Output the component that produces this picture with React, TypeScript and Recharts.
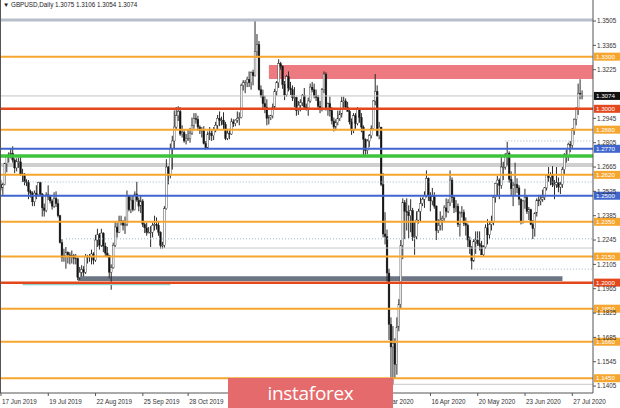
import React from 'react';
import {
  ComposedChart,
  Bar,
  XAxis,
  YAxis,
  ReferenceLine,
  ReferenceArea,
} from 'recharts';

// GBPUSD daily, 17 Jun 2019 .. 3 Aug 2020 — [open, high, low, close], one row per week
const candles: number[][] = [
  [1.2565, 1.2590, 1.2530, 1.2545], [1.2545, 1.2575, 1.2505, 1.2565], [1.2565, 1.2690, 1.2560, 1.2685], [1.2685, 1.2728, 1.2635, 1.2725], [1.2725, 1.2750, 1.2690, 1.2740],
  [1.2740, 1.2770, 1.2715, 1.2745], [1.2745, 1.2784, 1.2690, 1.2705], [1.2705, 1.2715, 1.2630, 1.2660], [1.2660, 1.2715, 1.2640, 1.2695], [1.2695, 1.2720, 1.2660, 1.2695],
  [1.2695, 1.2735, 1.2615, 1.2625], [1.2625, 1.2655, 1.2580, 1.2625], [1.2625, 1.2630, 1.2560, 1.2580], [1.2580, 1.2595, 1.2555, 1.2575], [1.2575, 1.2590, 1.2480, 1.2525],
  [1.2525, 1.2535, 1.2490, 1.2515], [1.2515, 1.2525, 1.2440, 1.2465], [1.2465, 1.2530, 1.2440, 1.2515], [1.2515, 1.2560, 1.2480, 1.2505], [1.2505, 1.2580, 1.2495, 1.2575],
  [1.2575, 1.2580, 1.2500, 1.2510], [1.2510, 1.2515, 1.2380, 1.2430], [1.2430, 1.2455, 1.2380, 1.2415], [1.2415, 1.2520, 1.2405, 1.2505], [1.2505, 1.2560, 1.2475, 1.2495],
  [1.2495, 1.2505, 1.2455, 1.2470], [1.2470, 1.2480, 1.2420, 1.2440], [1.2440, 1.2520, 1.2430, 1.2485], [1.2485, 1.2525, 1.2435, 1.2455], [1.2455, 1.2480, 1.2375, 1.2385],
  [1.2385, 1.2390, 1.2225, 1.2230], [1.2230, 1.2250, 1.2120, 1.2145], [1.2145, 1.2195, 1.2120, 1.2155], [1.2155, 1.2205, 1.2080, 1.2175], [1.2175, 1.2180, 1.2110, 1.2160],
  [1.2160, 1.2175, 1.2105, 1.2145], [1.2145, 1.2185, 1.2110, 1.2155], [1.2155, 1.2165, 1.2105, 1.2140], [1.2140, 1.2165, 1.2105, 1.2140], [1.2140, 1.2145, 1.2015, 1.2030],
  [1.2030, 1.2090, 1.2015, 1.2060], [1.2060, 1.2100, 1.2035, 1.2075], [1.2075, 1.2095, 1.2035, 1.2060], [1.2060, 1.2165, 1.2050, 1.2150], [1.2150, 1.2160, 1.2110, 1.2150],
  [1.2150, 1.2165, 1.2120, 1.2150], [1.2150, 1.2190, 1.2105, 1.2165], [1.2165, 1.2175, 1.2105, 1.2130], [1.2130, 1.2275, 1.2120, 1.2245], [1.2245, 1.2310, 1.2205, 1.2275],
  [1.2275, 1.2285, 1.2190, 1.2215], [1.2215, 1.2310, 1.2205, 1.2285], [1.2285, 1.2290, 1.2175, 1.2210], [1.2210, 1.2230, 1.2150, 1.2170], [1.2170, 1.2205, 1.2145, 1.2155],
  [1.2155, 1.2160, 1.2025, 1.2060], [1.2060, 1.2105, 1.1959, 1.2085], [1.2085, 1.2230, 1.2080, 1.2215], [1.2215, 1.2355, 1.2205, 1.2320], [1.2320, 1.2345, 1.2260, 1.2290],
  [1.2290, 1.2385, 1.2285, 1.2355], [1.2355, 1.2385, 1.2330, 1.2350], [1.2350, 1.2360, 1.2300, 1.2330], [1.2330, 1.2380, 1.2280, 1.2335], [1.2335, 1.2530, 1.2325, 1.2500],
  [1.2500, 1.2505, 1.2410, 1.2420], [1.2420, 1.2500, 1.2400, 1.2475], [1.2475, 1.2500, 1.2410, 1.2420], [1.2420, 1.2525, 1.2415, 1.2510], [1.2510, 1.2580, 1.2465, 1.2475],
  [1.2475, 1.2490, 1.2410, 1.2440], [1.2440, 1.2500, 1.2400, 1.2470], [1.2470, 1.2480, 1.2320, 1.2335], [1.2335, 1.2345, 1.2285, 1.2315], [1.2315, 1.2345, 1.2270, 1.2290],
  [1.2290, 1.2320, 1.2285, 1.2290], [1.2290, 1.2325, 1.2205, 1.2290], [1.2290, 1.2345, 1.2260, 1.2330], [1.2330, 1.2385, 1.2300, 1.2335], [1.2335, 1.2375, 1.2305, 1.2330],
  [1.2330, 1.2355, 1.2270, 1.2290], [1.2290, 1.2295, 1.2195, 1.2215], [1.2215, 1.2235, 1.2195, 1.2215], [1.2215, 1.2440, 1.2200, 1.2425], [1.2425, 1.2710, 1.2420, 1.2665],
  [1.2665, 1.2670, 1.2565, 1.2615], [1.2615, 1.2800, 1.2600, 1.2770], [1.2770, 1.2845, 1.2650, 1.2815], [1.2815, 1.2990, 1.2770, 1.2895], [1.2895, 1.3010, 1.2880, 1.2960],
  [1.2960, 1.3015, 1.2930, 1.2985], [1.2985, 1.3010, 1.2845, 1.2855], [1.2855, 1.2905, 1.2835, 1.2865], [1.2865, 1.2880, 1.2805, 1.2815], [1.2815, 1.2855, 1.2795, 1.2830],
  [1.2830, 1.2880, 1.2815, 1.2830], [1.2830, 1.2890, 1.2805, 1.2860], [1.2860, 1.2950, 1.2850, 1.2905], [1.2905, 1.2975, 1.2885, 1.2945], [1.2945, 1.2975, 1.2915, 1.2940],
  [1.2940, 1.2960, 1.2875, 1.2895], [1.2895, 1.2905, 1.2855, 1.2875], [1.2875, 1.2895, 1.2835, 1.2875], [1.2875, 1.2900, 1.2795, 1.2800], [1.2800, 1.2815, 1.2765, 1.2775],
  [1.2775, 1.2870, 1.2770, 1.2855], [1.2855, 1.2895, 1.2820, 1.2860], [1.2860, 1.2875, 1.2815, 1.2845], [1.2845, 1.2895, 1.2820, 1.2880], [1.2880, 1.2925, 1.2865, 1.2905],
  [1.2905, 1.2965, 1.2880, 1.2945], [1.2945, 1.2985, 1.2900, 1.2935], [1.2935, 1.2955, 1.2905, 1.2935], [1.2935, 1.2980, 1.2880, 1.2910], [1.2910, 1.2925, 1.2820, 1.2830],
  [1.2830, 1.2885, 1.2820, 1.2860], [1.2860, 1.2885, 1.2825, 1.2855], [1.2855, 1.2945, 1.2850, 1.2925], [1.2925, 1.2940, 1.2895, 1.2915], [1.2915, 1.2940, 1.2900, 1.2935],
  [1.2935, 1.2985, 1.2920, 1.2945], [1.2945, 1.2980, 1.2905, 1.2950], [1.2950, 1.3145, 1.2945, 1.3135], [1.3135, 1.3165, 1.3105, 1.3150], [1.3150, 1.3165, 1.3090, 1.3150],
  [1.3150, 1.3185, 1.3125, 1.3170], [1.3170, 1.3215, 1.3125, 1.3150], [1.3150, 1.3215, 1.3110, 1.3210], [1.3210, 1.3225, 1.3135, 1.3190], [1.3190, 1.3514, 1.3185, 1.3330],
  [1.3330, 1.3430, 1.3295, 1.3370], [1.3370, 1.3390, 1.3105, 1.3110], [1.3110, 1.3135, 1.3065, 1.3075], [1.3075, 1.3110, 1.3000, 1.3030], [1.3030, 1.3075, 1.2975, 1.3010],
  [1.3010, 1.3055, 1.2905, 1.2945], [1.2945, 1.2965, 1.2910, 1.2950], [1.2950, 1.2965, 1.2935, 1.2960], [1.2960, 1.3030, 1.2945, 1.3010], [1.3010, 1.3115, 1.2995, 1.3100],
  [1.3100, 1.3160, 1.3075, 1.3150], [1.3150, 1.3285, 1.3120, 1.3260], [1.3260, 1.3270, 1.3225, 1.3245], [1.3245, 1.3250, 1.3115, 1.3140], [1.3140, 1.3160, 1.3050, 1.3080],
  [1.3080, 1.3195, 1.3070, 1.3185], [1.3185, 1.3215, 1.3100, 1.3120], [1.3120, 1.3155, 1.3080, 1.3110], [1.3110, 1.3135, 1.3045, 1.3065], [1.3065, 1.3125, 1.3010, 1.3065],
  [1.3065, 1.3070, 1.2960, 1.2990], [1.2990, 1.3045, 1.2965, 1.3020], [1.3020, 1.3055, 1.2985, 1.3035], [1.3035, 1.3085, 1.3015, 1.3075], [1.3075, 1.3120, 1.3005, 1.3010],
  [1.3010, 1.3030, 1.2990, 1.3005], [1.3005, 1.3065, 1.2960, 1.3045], [1.3045, 1.3145, 1.3035, 1.3125], [1.3125, 1.3155, 1.3095, 1.3110], [1.3110, 1.3145, 1.3060, 1.3075],
  [1.3075, 1.3110, 1.3045, 1.3065], [1.3065, 1.3080, 1.2995, 1.3015], [1.3015, 1.3045, 1.2975, 1.3005], [1.3005, 1.3120, 1.2985, 1.3110], [1.3110, 1.3215, 1.3090, 1.3200],
  [1.3200, 1.3210, 1.2990, 1.3000], [1.3000, 1.3035, 1.2960, 1.3030], [1.3030, 1.3070, 1.2955, 1.2990], [1.2990, 1.3010, 1.2910, 1.2930], [1.2930, 1.2950, 1.2870, 1.2895],
  [1.2895, 1.2940, 1.2875, 1.2920], [1.2920, 1.2990, 1.2905, 1.2945], [1.2945, 1.2990, 1.2930, 1.2970], [1.2970, 1.3070, 1.2950, 1.3045], [1.3045, 1.3070, 1.3005, 1.3045],
  [1.3045, 1.3060, 1.3000, 1.3010], [1.3010, 1.3040, 1.2985, 1.2985], [1.2985, 1.3005, 1.2910, 1.2925], [1.2925, 1.2945, 1.2850, 1.2875], [1.2875, 1.2975, 1.2860, 1.2960],
  [1.2960, 1.2975, 1.2885, 1.2915], [1.2915, 1.3010, 1.2905, 1.2995], [1.2995, 1.3000, 1.2920, 1.2950], [1.2950, 1.2975, 1.2865, 1.2895], [1.2895, 1.2905, 1.2725, 1.2825],
  [1.2825, 1.2830, 1.2725, 1.2760], [1.2760, 1.2825, 1.2740, 1.2815], [1.2815, 1.2855, 1.2780, 1.2845], [1.2845, 1.2905, 1.2830, 1.2885], [1.2885, 1.3050, 1.2880, 1.3045],
  [1.3045, 1.3200, 1.3020, 1.3100], [1.3100, 1.3135, 1.2840, 1.2845], [1.2845, 1.2925, 1.2825, 1.2895], [1.2895, 1.2895, 1.2555, 1.2565], [1.2565, 1.2630, 1.2260, 1.2280],
  [1.2280, 1.2405, 1.2220, 1.2265], [1.2265, 1.2305, 1.2005, 1.2055], [1.2055, 1.2080, 1.1670, 1.1760], [1.1760, 1.1800, 1.1450, 1.1630], [1.1630, 1.1750, 1.1410, 1.1650],
  [1.1650, 1.1680, 1.1450, 1.1530], [1.1530, 1.1800, 1.1470, 1.1745], [1.1745, 1.1905, 1.1720, 1.1875], [1.1875, 1.2245, 1.1850, 1.2215], [1.2215, 1.2485, 1.2135, 1.2460],
  [1.2460, 1.2475, 1.2250, 1.2410], [1.2410, 1.2485, 1.2300, 1.2405], [1.2405, 1.2445, 1.2255, 1.2385], [1.2385, 1.2480, 1.2290, 1.2415], [1.2415, 1.2430, 1.2240, 1.2265],
  [1.2265, 1.2355, 1.2160, 1.2265], [1.2265, 1.2410, 1.2250, 1.2360], [1.2360, 1.2425, 1.2340, 1.2410], [1.2410, 1.2490, 1.2355, 1.2455], [1.2455, 1.2490, 1.2440, 1.2480],
  [1.2480, 1.2525, 1.2430, 1.2500], [1.2500, 1.2645, 1.2490, 1.2600], [1.2600, 1.2605, 1.2470, 1.2500], [1.2500, 1.2520, 1.2410, 1.2470], [1.2470, 1.2545, 1.2445, 1.2495],
  [1.2495, 1.2520, 1.2425, 1.2440], [1.2440, 1.2445, 1.2245, 1.2300], [1.2300, 1.2365, 1.2285, 1.2330], [1.2330, 1.2410, 1.2300, 1.2360], [1.2360, 1.2385, 1.2300, 1.2370],
  [1.2370, 1.2445, 1.2355, 1.2430], [1.2430, 1.2485, 1.2375, 1.2410], [1.2410, 1.2480, 1.2400, 1.2460], [1.2460, 1.2645, 1.2440, 1.2590], [1.2590, 1.2605, 1.2460, 1.2490],
  [1.2490, 1.2495, 1.2400, 1.2430], [1.2430, 1.2475, 1.2405, 1.2440], [1.2440, 1.2455, 1.2320, 1.2335], [1.2335, 1.2410, 1.2265, 1.2400], [1.2400, 1.2440, 1.2375, 1.2405],
  [1.2405, 1.2420, 1.2325, 1.2340], [1.2340, 1.2375, 1.2270, 1.2330], [1.2330, 1.2340, 1.2205, 1.2245], [1.2245, 1.2265, 1.2165, 1.2205], [1.2205, 1.2210, 1.2075, 1.2125],
  [1.2125, 1.2250, 1.2120, 1.2235], [1.2235, 1.2295, 1.2165, 1.2245], [1.2245, 1.2295, 1.2210, 1.2225], [1.2225, 1.2295, 1.2185, 1.2215], [1.2215, 1.2240, 1.2160, 1.2160],
  [1.2160, 1.2215, 1.2150, 1.2205], [1.2205, 1.2335, 1.2195, 1.2315], [1.2315, 1.2365, 1.2220, 1.2275], [1.2275, 1.2350, 1.2250, 1.2335], [1.2335, 1.2385, 1.2300, 1.2345],
  [1.2345, 1.2500, 1.2330, 1.2490], [1.2490, 1.2575, 1.2460, 1.2570], [1.2570, 1.2615, 1.2500, 1.2590], [1.2590, 1.2600, 1.2480, 1.2560], [1.2560, 1.2730, 1.2540, 1.2665],
  [1.2665, 1.2695, 1.2590, 1.2665], [1.2665, 1.2745, 1.2650, 1.2735], [1.2735, 1.2810, 1.2675, 1.2745], [1.2745, 1.2755, 1.2575, 1.2595], [1.2595, 1.2640, 1.2500, 1.2540],
  [1.2540, 1.2580, 1.2440, 1.2560], [1.2560, 1.2690, 1.2505, 1.2565], [1.2565, 1.2600, 1.2515, 1.2545], [1.2545, 1.2560, 1.2445, 1.2480], [1.2480, 1.2485, 1.2335, 1.2350],
  [1.2350, 1.2475, 1.2340, 1.2470], [1.2470, 1.2540, 1.2425, 1.2490], [1.2490, 1.2500, 1.2395, 1.2410], [1.2410, 1.2435, 1.2360, 1.2420], [1.2420, 1.2425, 1.2330, 1.2335],
  [1.2335, 1.2360, 1.2250, 1.2310], [1.2310, 1.2405, 1.2265, 1.2400], [1.2400, 1.2485, 1.2380, 1.2475], [1.2475, 1.2505, 1.2440, 1.2470], [1.2470, 1.2505, 1.2445, 1.2480],
  [1.2480, 1.2535, 1.2465, 1.2490], [1.2490, 1.2550, 1.2475, 1.2545], [1.2545, 1.2615, 1.2530, 1.2615], [1.2615, 1.2665, 1.2580, 1.2605], [1.2605, 1.2635, 1.2560, 1.2620],
  [1.2620, 1.2670, 1.2550, 1.2565], [1.2565, 1.2590, 1.2480, 1.2565], [1.2565, 1.2665, 1.2545, 1.2575], [1.2575, 1.2605, 1.2520, 1.2550], [1.2550, 1.2580, 1.2510, 1.2565],
  [1.2565, 1.2665, 1.2545, 1.2650], [1.2650, 1.2745, 1.2625, 1.2735], [1.2735, 1.2765, 1.2690, 1.2725], [1.2725, 1.2805, 1.2700, 1.2795], [1.2795, 1.2815, 1.2750, 1.2790],
  [1.2790, 1.2890, 1.2770, 1.2875], [1.2875, 1.2945, 1.2850, 1.2940], [1.2940, 1.3010, 1.2905, 1.2995], [1.2995, 1.3145, 1.2965, 1.3090], [1.3090, 1.3170, 1.3055, 1.3085],
  [1.3075, 1.3106, 1.3054, 1.3074],
];

// date labels along the bottom (bar index -> text); the ones under the logo are not visible in the source
const dateTickIdx = [0, 24, 48, 72, 95, 191, 218, 242, 266, 290];
const dateTickText = [
  '17 Jun 2019', '19 Jul 2019', '22 Aug 2019', '25 Sep 2019', '28 Oct 2019',
  '10 Mar 2020', '16 Apr 2020', '20 May 2020', '23 Jun 2020', '27 Jul 2020',
];

const priceTicks = [
  1.3505, 1.3365, 1.3225, 1.2945, 1.2805, 1.2665, 1.2525,
  1.2385, 1.2245, 1.2105, 1.1965, 1.1825, 1.1685, 1.1545, 1.1405,
];

// horizontal levels
const orangeLevels = [1.33, 1.288, 1.262, 1.235, 1.215, 1.185, 1.166, 1.145];
const redLevels = [1.3, 1.2];
const blueLevels = [1.277, 1.25];
const greenLevel = 1.2728;
const lastPrice = 1.3074;
const topLine = 1.3511;
const resistanceZone = [1.3172, 1.3252];
const resistanceZoneFrom = 136;
const grayBand = [1.2665, 1.2688];
const slateBand = [1.201, 1.2036];
const slateBandSpan = [39, 285];
const tealLine = 1.1991;
const tealLineSpan = [11, 86];
// dotted / thin lines that start part way across: [price, start bar]
const dottedLines = [[1.2815, 256], [1.2579, 10], [1.2252, 33], [1.2078, 240]];
const thinGrayLines = [[1.2199, 58], [1.1415, 199]];

const X_MAX = 300.5;
const FONT = '"Liberation Sans", Arial, sans-serif';

const chartData = candles.map((c, i) => ({ i, o: c[0], h: c[1], l: c[2], c: c[3] }));

const Candle = (props: any) => {
  const { x, y, width, height, payload } = props;
  if (!payload || x == null) return null;
  const top = Math.min(y, y + height);
  const span = Math.abs(height);
  const range = payload.h - payload.l;
  const k = range > 0 ? span / range : 0;
  const py = (v: number) => top + (payload.h - v) * k;
  const cx = x + width / 2;
  const yo = py(payload.o);
  const yc = py(payload.c);
  const bull = payload.c >= payload.o;
  const bodyTop = Math.min(yo, yc);
  const bodyH = Math.max(Math.abs(yc - yo), 0.8);
  return (
    <g>
      <line x1={cx} x2={cx} y1={top} y2={top + span} stroke="#2a2a2a" strokeWidth={1} />
      <rect
        x={cx - 0.9}
        y={bodyTop}
        width={1.8}
        height={bodyH}
        fill={bull ? '#ffffff' : '#111111'}
        stroke="#2a2a2a"
        strokeWidth={0.4}
      />
    </g>
  );
};

const Tag = (props: any) => {
  const { viewBox, text, bg } = props;
  if (!viewBox) return null;
  const x = viewBox.x + viewBox.width;
  const y = viewBox.y;
  return (
    <g>
      <rect x={x + 1} y={y - 4} width={26} height={8} fill={bg} />
      <text x={x + 3} y={y + 2.2} fontSize={6.2} fill="#ffffff" fontFamily={FONT}>
        {text}
      </text>
    </g>
  );
};

const DateTick = (props: any) => {
  const { x, y, payload } = props;
  const pos = dateTickIdx.indexOf(payload.value);
  return (
    <text x={x + 1} y={y + 6} fontSize={6.3} fill="#333" textAnchor="start" fontFamily={FONT}>
      {pos >= 0 ? dateTickText[pos] : ''}
    </text>
  );
};

export default function App() {
  return (
    <div style={{ position: 'absolute', left: 0, top: 0, width: 620, height: 408, background: '#fff', overflow: 'hidden' }}>
      <ComposedChart
        width={620}
        height={408}
        data={chartData}
        margin={{ top: 0, right: 0, left: 0, bottom: 0 }}
        barCategoryGap={0}
      >
        <XAxis
          type="number"
          dataKey="i"
          domain={[-0.5, X_MAX]}
          allowDataOverflow
          ticks={dateTickIdx}
          interval={0}
          height={15}
          tick={<DateTick />}
          tickSize={3}
          stroke="#555"
        />
        <YAxis
          orientation="right"
          domain={[1.1365, 1.3626]}
          allowDataOverflow
          ticks={priceTicks}
          interval={0}
          width={27}
          tickSize={3}
          tickMargin={1}
          stroke="#555"
          tickFormatter={(v: number) => v.toFixed(4)}
          tick={{ fontSize: 6.3, fill: '#333', fontFamily: FONT, textAnchor: 'start' }}
        />

        <ReferenceArea x1={resistanceZoneFrom} x2={X_MAX} y1={resistanceZone[0]} y2={resistanceZone[1]} fill="#ec7a80" fillOpacity={1} stroke="none" />
        <ReferenceArea x1={-0.5} x2={X_MAX} y1={grayBand[0]} y2={grayBand[1]} fill="#cfcfcf" fillOpacity={1} stroke="none" />
        <ReferenceArea x1={slateBandSpan[0]} x2={slateBandSpan[1]} y1={slateBand[0]} y2={slateBand[1]} fill="#6c7584" fillOpacity={1} stroke="none" />

        <Bar
          dataKey={(d: any) => [d.l, d.h]}
          shape={(p: any) => <Candle {...p} />}
          isAnimationActive={false}
          barSize={2}
        />

        <ReferenceLine y={topLine} stroke="#b7bfcb" strokeWidth={3} />
        <ReferenceLine y={lastPrice} stroke="#c4c4c4" strokeWidth={1} label={<Tag text={lastPrice.toFixed(4)} bg="#111111" />} />
        {dottedLines.map(([p, from]) => (
          <ReferenceLine key={`d${p}`} segment={[{ x: from, y: p }, { x: X_MAX, y: p }]} stroke="#9fb4c8" strokeDasharray="1 2" strokeWidth={1} />
        ))}
        {thinGrayLines.map(([p, from]) => (
          <ReferenceLine key={`g${p}`} segment={[{ x: from, y: p }, { x: X_MAX, y: p }]} stroke="#c8c8c8" strokeWidth={1} />
        ))}
        <ReferenceLine segment={[{ x: tealLineSpan[0], y: tealLine }, { x: tealLineSpan[1], y: tealLine }]} stroke="#8fd0cc" strokeWidth={2} />
        <ReferenceLine y={greenLevel} stroke="#3cc43c" strokeWidth={3.5} />
        {orangeLevels.map((p) => (
          <ReferenceLine key={`o${p}`} y={p} stroke="#f6a62e" strokeWidth={2} label={<Tag text={p.toFixed(4)} bg="#f6a62e" />} />
        ))}
        {blueLevels.map((p) => (
          <ReferenceLine key={`b${p}`} y={p} stroke="#3f66cf" strokeWidth={2} label={<Tag text={p.toFixed(4)} bg="#3f66cf" />} />
        ))}
        {redLevels.map((p) => (
          <ReferenceLine key={`r${p}`} y={p} stroke="#e4471c" strokeWidth={2.5} label={<Tag text={p.toFixed(4)} bg="#e4471c" />} />
        ))}
      </ComposedChart>

      <div style={{ position: 'absolute', left: 0, top: 0, width: 1, height: 393, background: '#555' }} />
      <div style={{ position: 'absolute', left: 3, top: 1, fontSize: 6.3, color: '#222', fontFamily: FONT, whiteSpace: 'nowrap' }}>
        {'\u25BC GBPUSD,Daily  1.3075 1.3106 1.3054 1.3074'}
      </div>
      <div
        style={{
          position: 'absolute',
          left: 228,
          top: 378,
          width: 165,
          height: 30,
          background: '#e46a6c',
          color: '#fff',
          fontFamily: '"Open Sans", sans-serif',
          fontSize: 19,
          lineHeight: '30px',
          textAlign: 'center',
          letterSpacing: -0.3,
        }}
      >
        instaforex
      </div>
    </div>
  );
}
